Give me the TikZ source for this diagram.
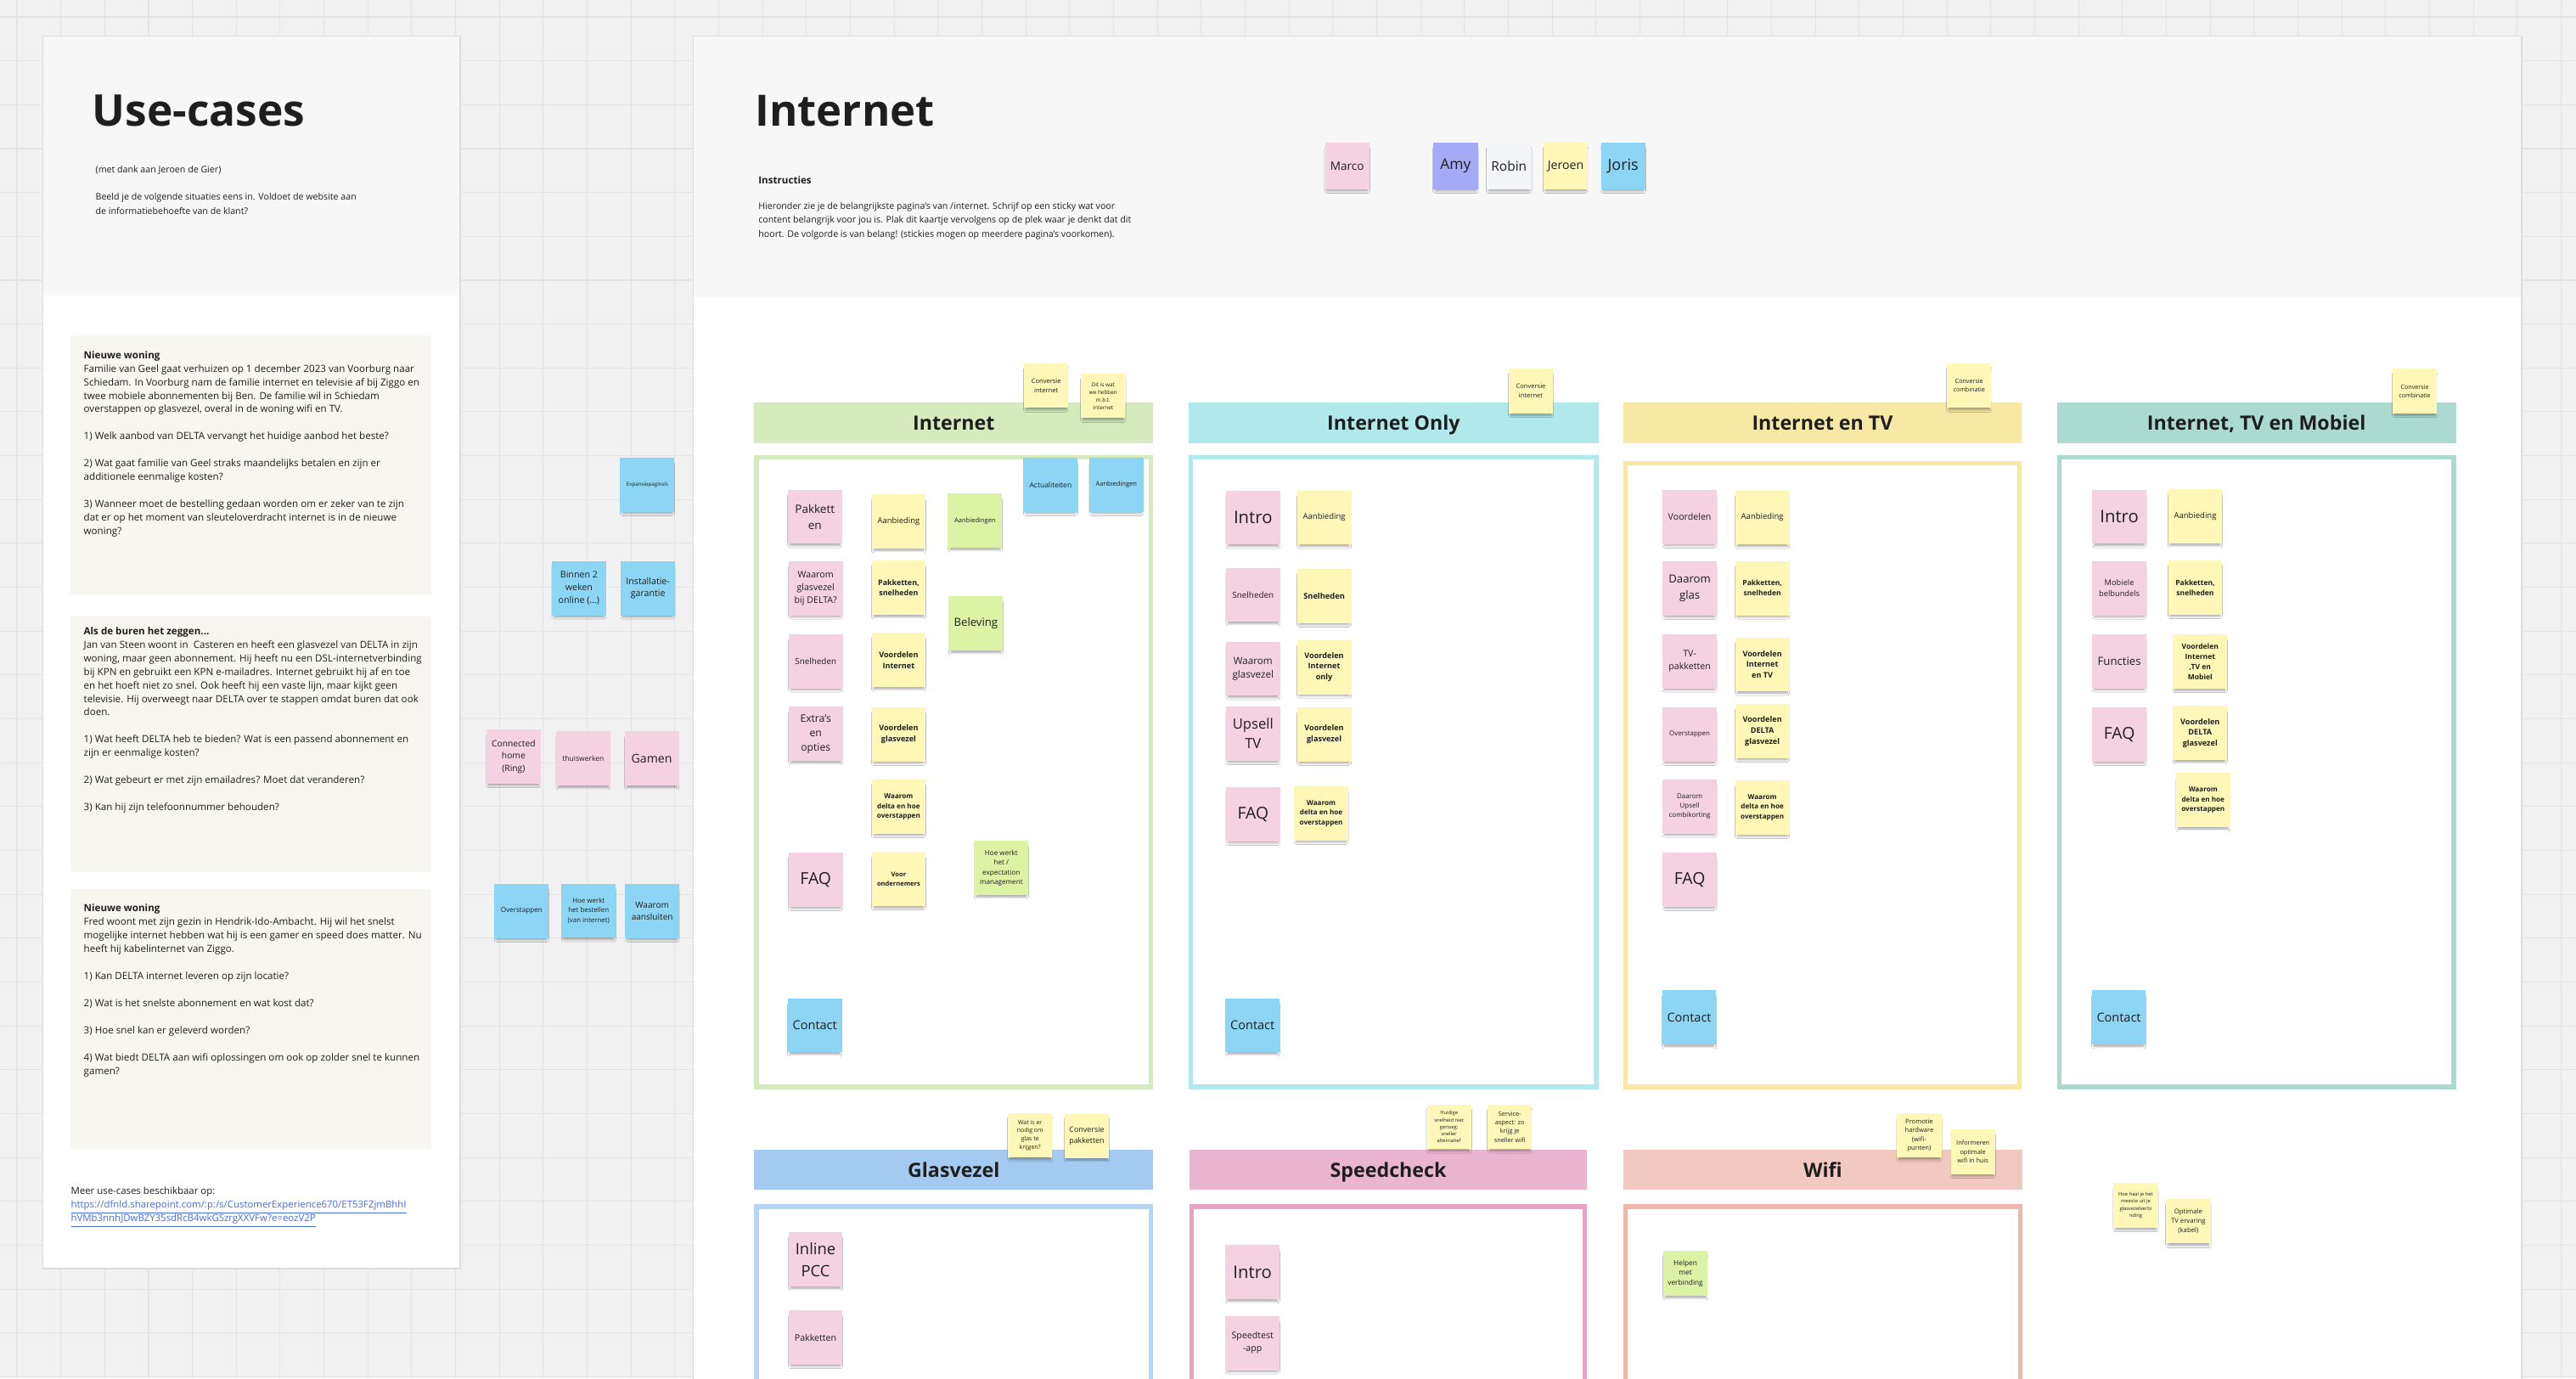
\documentclass[tikz,border=0pt]{standalone}
\usepackage{fontspec}
\setmainfont{Open Sans}
\usetikzlibrary{shadows.blur}
\definecolor{CanvasClr}{HTML}{F1F1F1}
\definecolor{GridClr}{HTML}{E3E3E3}
\definecolor{PanelTopClr}{HTML}{F7F7F7}
\definecolor{PanelLineClr}{HTML}{DDDDDD}
\definecolor{CaseClr}{HTML}{F8F6F0}
\definecolor{LinkClr}{HTML}{4A6CD9}
\definecolor{TextClr}{HTML}{1E1E1E}
\definecolor{PinkClr}{HTML}{F5D2E1}
\definecolor{YellowClr}{HTML}{FFF7B7}
\definecolor{BlueClr}{HTML}{8DD5F4}
\definecolor{GreenClr}{HTML}{DCF2A4}
\definecolor{PurpleClr}{HTML}{A6AAF5}
\definecolor{WhiteClr}{HTML}{F4F5F8}
\definecolor{InternetClr}{HTML}{D5EBBE}
\definecolor{OnlyClr}{HTML}{B1E8EC}
\definecolor{TvClr}{HTML}{F8E8A5}
\definecolor{MobielClr}{HTML}{ACDAD0}
\definecolor{GlasClr}{HTML}{A4CAF2}
\definecolor{GlasLineClr}{HTML}{B6D6F5}
\definecolor{SpeedClr}{HTML}{EAB6CF}
\definecolor{SpeedLineClr}{HTML}{E6A2C3}
\definecolor{WifiClr}{HTML}{F2C9C0}
\definecolor{WifiLineClr}{HTML}{EFB6AB}
\newcommand\notesize[1]{\fontsize{#1}{\dimexpr #1pt*14/10\relax}\selectfont}
\tikzset{
  gridline/.style={draw=GridClr, line width=.6pt},
  sticky/.style={minimum width=33pt, minimum height=33pt, inner sep=1pt, align=center, text=TextClr,
    blur shadow={shadow xshift=0pt, shadow yshift=-2.5pt, shadow scale=.92, shadow blur radius=1.5pt, shadow blur steps=6, shadow opacity=35}},
  pinksticky/.style={sticky, fill=PinkClr},
  yellowsticky/.style={sticky, fill=YellowClr},
  bluesticky/.style={sticky, fill=BlueClr},
  greensticky/.style={sticky, fill=GreenClr},
  smallsticky/.style={minimum width=27pt, minimum height=27pt},
  namesticky/.style={minimum width=27pt, minimum height=28pt},
  bandbox/.style={minimum height=25pt, inner sep=0, text height=8.6pt, text depth=0pt, font=\bfseries\fontsize{12}{14}\selectfont, text=TextClr},
  colbox/.style={line width=2.8pt},
  casetext/.style={anchor=north west, align=left, inner sep=0, text=TextClr, font=\fontsize{6}{8.25}\selectfont}
}
\begin{document}
\begin{tikzpicture}[x=1pt,y=-1pt]
\useasboundingbox (0,0) rectangle (1568,839);
\fill[CanvasClr] (0,0) rectangle (1568,839);
\foreach \g in {0,...,58} \draw[gridline] ({10.3+26.7*\g},0) -- ++(0,839);
\foreach \g in {0,...,31} \draw[gridline] (0,{10.3+26.7*\g}) -- ++(1568,0);

\fill[white] (26,22) rectangle (280,772);
\fill[PanelTopClr] (26,22) rectangle (280,180);
\draw[PanelLineClr, line width=.8pt] (26,22) rectangle (280,772);
\fill[white] (422,22) rectangle (1535,860);
\fill[PanelTopClr] (422,22) rectangle (1535,181);
\draw[PanelLineClr, line width=.8pt] (422,22) rectangle (1535,860);

\fill[CaseClr] (42.7,204) rectangle (262.6,362);
\fill[CaseClr] (42.7,375) rectangle (262.6,531);
\fill[CaseClr] (42.7,541) rectangle (262.6,699);

\node[anchor=west, inner sep=0, text=TextClr, font=\bfseries\fontsize{26.6}{30}\selectfont] (ucTitle) at (56,67.5) {Use-cases};
\node[anchor=west, inner sep=0, text=TextClr, font=\fontsize{5.5}{8.5}\selectfont] (ucThanks) at (58,103.6) {(met dank aan Jeroen de Gier)};
\node[casetext, font=\fontsize{5.5}{8.6}\selectfont] (ucIntro) at (58,117.3) {Beeld je de volgende situaties eens in. Voldoet de website aan\\de informatiebehoefte van de klant?};
\node[casetext] (caseOne) at (50.8,213.4) {\textbf{Nieuwe woning}\\Familie van Geel gaat verhuizen op 1 december 2023 van Voorburg naar\\Schiedam. In Voorburg nam de familie internet en televisie af bij Ziggo en\\twee mobiele abonnementen bij Ben. De familie wil in Schiedam\\overstappen op glasvezel, overal in de woning wifi en TV.\\[8.25pt]1) Welk aanbod van DELTA vervangt het huidige aanbod het beste?\\[8.25pt]2) Wat gaat familie van Geel straks maandelijks betalen en zijn er\\additionele eenmalige kosten?\\[8.25pt]3) Wanneer moet de bestelling gedaan worden om er zeker van te zijn\\dat er op het moment van sleuteloverdracht internet is in de nieuwe\\woning?};
\node[casetext] (caseTwo) at (50.8,381.4) {\textbf{Als de buren het zeggen...}\\Jan van Steen woont in\ \ Casteren en heeft een glasvezel van DELTA in zijn\\woning, maar geen abonnement. Hij heeft nu een DSL-internetverbinding\\bij KPN en gebruikt een KPN e-mailadres. Internet gebruikt hij af en toe\\en het hoeft niet zo snel. Ook heeft hij een vaste lijn, maar kijkt geen\\televisie. Hij overweegt naar DELTA over te stappen omdat buren dat ook\\doen.\\[8.25pt]1) Wat heeft DELTA heb te bieden? Wat is een passend abonnement en\\zijn er eenmalige kosten?\\[8.25pt]2) Wat gebeurt er met zijn emailadres? Moet dat veranderen?\\[8.25pt]3) Kan hij zijn telefoonnummer behouden?};
\node[casetext] (caseThree) at (50.8,550.2) {\textbf{Nieuwe woning}\\Fred woont met zijn gezin in Hendrik-Ido-Ambacht. Hij wil het snelst\\mogelijke internet hebben wat hij is een gamer en speed does matter. Nu\\heeft hij kabelinternet van Ziggo.\\[8.25pt]1) Kan DELTA internet leveren op zijn locatie?\\[8.25pt]2) Wat is het snelste abonnement en wat kost dat?\\[8.25pt]3) Hoe snel kan er geleverd worden?\\[8.25pt]4) Wat biedt DELTA aan wifi oplossingen om ook op zolder snel te kunnen\\gamen?};
\node[casetext, font=\fontsize{5.9}{8.4}\selectfont] (ucMore) at (43,722.1) {Meer use-cases beschikbaar op:\\\textcolor{LinkClr}{\underline{https://dfnld.sharepoint.com/:p:/s/CustomerExperience670/ET53FZjmBhhI}}\\\textcolor{LinkClr}{\underline{hVMb3nnhJDwBZY35sdRcB4wkGSzrgXXVFw?e=eozV2P}}};

\node[anchor=west, inner sep=0, text=TextClr, font=\bfseries\fontsize{26.3}{30}\selectfont] (inTitle) at (459.5,67.5) {Internet};
\node[anchor=west, inner sep=0, text=TextClr, font=\bfseries\fontsize{6}{8}\selectfont] (inHead) at (461.5,109.5) {Instructies};
\node[casetext, font=\fontsize{5.5}{8.5}\selectfont] (inText) at (461.5,123) {Hieronder zie je de belangrijkste pagina's van /internet. Schrijf op een sticky wat voor\\content belangrijk voor jou is. Plak dit kaartje vervolgens op de plek waar je denkt dat dit\\hoort. De volgorde is van belang! (stickies mogen op meerdere pagina's voorkomen).};

\node[bandbox, fill=InternetClr, minimum width=243pt] (bandInternet) at (580.5,257.3) {Internet};
\node[bandbox, fill=OnlyClr, minimum width=249.5pt] (bandOnly) at (848.3,257.3) {Internet Only};
\node[bandbox, fill=TvClr, minimum width=242.5pt] (bandTV) at (1109.3,257.3) {Internet en TV};
\node[bandbox, fill=MobielClr, minimum width=243pt] (bandMobiel) at (1373.5,257.3) {Internet, TV en Mobiel};
\node[bandbox, fill=GlasClr, minimum width=243pt, minimum height=24.5pt] (bandGlas) at (580.5,712) {Glasvezel};
\node[bandbox, fill=SpeedClr, minimum width=242pt, minimum height=24.5pt] (bandSpeed) at (845,712) {Speedcheck};
\node[bandbox, fill=WifiClr, minimum width=243pt, minimum height=24.5pt] (bandWifi) at (1109.5,712) {Wifi};

\draw[colbox, InternetClr] (460.4,278.4) rectangle (700.6,661.6);
\draw[colbox, OnlyClr] (724.9,278.4) rectangle (971.6,661.6);
\draw[colbox, TvClr] (989.4,281.9) rectangle (1229.1,661.6);
\draw[colbox, MobielClr] (1253.4,278.4) rectangle (1493.6,661.6);
\draw[colbox, GlasLineClr] (460.4,734.4) rectangle (700.6,870);
\draw[colbox, SpeedLineClr] (725.4,734.4) rectangle (964.6,870);
\draw[colbox, WifiLineClr] (989.4,734.4) rectangle (1229.6,870);

\node[bluesticky, font=\notesize{3.2}] (expansie) at (394,295) {Expansiepagina's};
\node[bluesticky, font=\notesize{5.5}] (binnen) at (352.4,358) {Binnen 2\\weken\\online (...)};
\node[bluesticky, font=\notesize{5.5}] (garantie) at (394.4,358) {Installatie-\\garantie};
\node[pinksticky, font=\notesize{5.3}] (connected) at (312.6,460.5) {Connected\\home\\(Ring)};
\node[pinksticky, font=\notesize{4.4}] (thuiswerken) at (355,461.7) {thuiswerken};
\node[pinksticky, font=\notesize{7.3}] (gamen) at (396.7,461.7) {Gamen};
\node[bluesticky, font=\notesize{4.2}] (overstappen) at (317.5,554.5) {Overstappen};
\node[bluesticky, font=\notesize{4.1}] (bestellen) at (358.3,554.3) {Hoe werkt\\het bestellen\\(van internet)};
\node[bluesticky, font=\notesize{5.2}] (aansluiten) at (397,554.5) {Waarom\\aansluiten};

\node[pinksticky, namesticky, font=\notesize{7}] (marco) at (820,101) {Marco};
\node[sticky, namesticky, fill=PurpleClr, font=\notesize{9}] (amy) at (886,101) {Amy};
\node[sticky, namesticky, fill=WhiteClr, font=\notesize{8}] (robin) at (918.5,101) {Robin};
\node[yellowsticky, namesticky, font=\notesize{7.3}] (jeroen) at (953,101) {Jeroen};
\node[bluesticky, namesticky, font=\notesize{9.3}] (joris) at (988,101) {Joris};

\node[yellowsticky, smallsticky, font=\notesize{3.9}] (iConversie) at (636.8,234.7) {Conversie\\internet};
\node[yellowsticky, smallsticky, font=\notesize{3.3}] (iDitIs) at (671.5,241) {Dit is wat\\we hebben\\m.b.t.\\internet};
\node[bluesticky, font=\notesize{4.4}] (iActualiteiten) at (639.5,295) {Actualiteiten};
\node[bluesticky, font=\notesize{3.9}] (iAanbiedingenB) at (679.5,295) {Aanbiedingen};
\node[pinksticky, font=\notesize{7}] (iPakketten) at (496,314.5) {Pakkett\\en};
\node[yellowsticky, font=\notesize{4.9}] (iAanbieding) at (547,317.5) {Aanbieding};
\node[greensticky, font=\notesize{3.9}] (iAanbiedingenG) at (593.5,317) {Aanbiedingen};
\node[pinksticky, font=\notesize{5.5}] (iWaaromGlas) at (496.5,358) {Waarom\\glasvezel\\bij DELTA?};
\node[yellowsticky, font=\notesize{4.6}\bfseries] (iPakSnel) at (547,357.8) {Pakketten,\\snelheden};
\node[greensticky, font=\notesize{6.8}] (iBeleving) at (594,379.5) {Beleving};
\node[pinksticky, font=\notesize{5.1}] (iSnelheden) at (496.5,402.4) {Snelheden};
\node[yellowsticky, font=\notesize{4.7}\bfseries] (iVoordInternet) at (547,401.7) {Voordelen\\Internet};
\node[pinksticky, font=\notesize{6.3}] (iExtras) at (496.5,446.7) {Extra's\\en\\opties};
\node[yellowsticky, font=\notesize{4.7}\bfseries] (iVoordGlas) at (547,447) {Voordelen\\glasvezel};
\node[yellowsticky, font=\notesize{4.2}\bfseries] (iWaaromDelta) at (547,491) {Waarom\\delta en hoe\\overstappen};
\node[pinksticky, font=\notesize{10}] (iFAQ) at (496.5,535.3) {FAQ};
\node[yellowsticky, font=\notesize{3.9}\bfseries] (iOndernemers) at (547,535) {Voor\\ondernemers};
\node[greensticky, font=\notesize{4.2}] (iHoeWerkt) at (609.5,528.3) {Hoe werkt\\het /\\expectation\\management};
\node[bluesticky, font=\notesize{7.5}] (iContact) at (496,624) {Contact};

\node[yellowsticky, smallsticky, font=\notesize{3.9}] (oConversie) at (931.8,238) {Conversie\\internet};
\node[pinksticky, font=\notesize{10.5}] (oIntro) at (762.7,315) {Intro};
\node[yellowsticky, font=\notesize{4.9}] (oAanbieding) at (806,315) {Aanbieding};
\node[pinksticky, font=\notesize{5.1}] (oSnelheden) at (762.7,362) {Snelheden};
\node[yellowsticky, font=\notesize{4.8}\bfseries] (oSnelhedenB) at (806,362.7) {Snelheden};
\node[pinksticky, font=\notesize{6}] (oWaaromGlas) at (762.7,407) {Waarom\\glasvezel};
\node[yellowsticky, font=\notesize{4.7}\bfseries] (oVoordOnly) at (806,406) {Voordelen\\Internet\\only};
\node[pinksticky, font=\notesize{8.6}] (oUpsell) at (762.7,446.5) {Upsell\\TV};
\node[yellowsticky, font=\notesize{4.7}\bfseries] (oVoordGlas) at (806,447) {Voordelen\\glasvezel};
\node[pinksticky, font=\notesize{10}] (oFAQ) at (762.7,495.5) {FAQ};
\node[yellowsticky, font=\notesize{4.2}\bfseries] (oWaaromDelta) at (804.2,495) {Waarom\\delta en hoe\\overstappen};
\node[bluesticky, font=\notesize{7.5}] (oContact) at (762.4,624) {Contact};

\node[yellowsticky, smallsticky, font=\notesize{3.7}] (tConversie) at (1198.6,234.7) {Conversie\\combinatie};
\node[pinksticky, font=\notesize{5.5}] (tVoordelen) at (1028.5,314.6) {Voordelen};
\node[yellowsticky, font=\notesize{4.9}] (tAanbieding) at (1072.7,315) {Aanbieding};
\node[pinksticky, font=\notesize{6.8}] (tDaarom) at (1028.5,358.1) {Daarom\\glas};
\node[yellowsticky, font=\notesize{4.4}\bfseries] (tPakSnel) at (1072.7,358) {Pakketten,\\snelheden};
\node[pinksticky, font=\notesize{5.5}] (tPakketten) at (1028.5,402.4) {TV-\\pakketten};
\node[yellowsticky, font=\notesize{4.7}\bfseries] (tVoordTV) at (1072.7,404.4) {Voordelen\\Internet\\en TV};
\node[pinksticky, font=\notesize{4.1}] (tOverstappen) at (1028.5,447) {Overstappen};
\node[yellowsticky, font=\notesize{4.7}\bfseries] (tVoordDelta) at (1072.7,445) {Voordelen\\DELTA\\glasvezel};
\node[pinksticky, font=\notesize{4.1}] (tUpsell) at (1028.5,490.8) {Daarom\\Upsell\\combikorting};
\node[yellowsticky, font=\notesize{4.2}\bfseries] (tWaaromDelta) at (1072.7,491.5) {Waarom\\delta en hoe\\overstappen};
\node[pinksticky, font=\notesize{10}] (tFAQ) at (1028.5,535.3) {FAQ};
\node[bluesticky, font=\notesize{7.5}] (tContact) at (1028.2,619.3) {Contact};

\node[yellowsticky, smallsticky, font=\notesize{3.7}] (mConversie) at (1469.8,238) {Conversie\\combinatie};
\node[pinksticky, font=\notesize{10.5}] (mIntro) at (1290,314.5) {Intro};
\node[yellowsticky, font=\notesize{4.9}] (mAanbieding) at (1336.2,314.4) {Aanbieding};
\node[pinksticky, font=\notesize{4.8}] (mBelbundels) at (1290,358) {Mobiele\\belbundels};
\node[yellowsticky, font=\notesize{4.4}\bfseries] (mPakSnel) at (1336.2,357.6) {Pakketten,\\snelheden};
\node[pinksticky, font=\notesize{6.8}] (mFuncties) at (1290,402.4) {Functies};
\node[yellowsticky, font=\notesize{4.4}\bfseries] (mVoordMobiel) at (1339.2,402.7) {Voordelen\\Internet\\,TV en\\Mobiel};
\node[pinksticky, font=\notesize{10}] (mFAQ) at (1290,447) {FAQ};
\node[yellowsticky, font=\notesize{4.7}\bfseries] (mVoordDelta) at (1339.2,446.2) {Voordelen\\DELTA\\glasvezel};
\node[yellowsticky, font=\notesize{4.2}\bfseries] (mWaaromDelta) at (1341,487) {Waarom\\delta en hoe\\overstappen};
\node[bluesticky, font=\notesize{7.5}] (mContact) at (1289.7,619.3) {Contact};

\node[yellowsticky, smallsticky, font=\notesize{3.6}] (gKrijgen) at (627,691) {Wat is er\\nodig om\\glas te\\krijgen?};
\node[yellowsticky, smallsticky, font=\notesize{4.6}] (gConversie) at (661.5,691.3) {Conversie\\pakketten};
\node[pinksticky, font=\notesize{9.5}] (gInline) at (496.4,766.6) {Inline\\PCC};
\node[pinksticky, font=\notesize{5.5}] (gPakketten) at (496.4,814) {Pakketten};
\node[yellowsticky, smallsticky, font=\notesize{3}] (sHuidig) at (882,685.8) {Huidige\\snelheid niet\\genoeg:\\sneller\\alternatief};
\node[yellowsticky, smallsticky, font=\notesize{3.8}] (sService) at (919,685.8) {Service-\\aspect: zo\\krijg je\\sneller wifi};
\node[pinksticky, font=\notesize{10.5}] (sIntro) at (762.4,774.3) {Intro};
\node[pinksticky, font=\notesize{5.5}] (sSpeedtest) at (762.4,817.4) {Speedtest\\-app};
\node[yellowsticky, smallsticky, font=\notesize{3.9}] (wPromotie) at (1168.2,691) {Promotie\\hardware\\(wifi-\\punten)};
\node[yellowsticky, smallsticky, font=\notesize{3.8}] (wInformeren) at (1200.9,701) {Informeren\\optimale\\wifi in huis};
\node[greensticky, smallsticky, font=\notesize{4.3}] (wHelpen) at (1025.9,775) {Helpen\\met\\verbinding};
\node[yellowsticky, smallsticky, font=\notesize{3}] (xGlasvezel) at (1300,733.6) {Hoe haal je het\\meeste uit je\\glasvezelverbi\\nding};
\node[yellowsticky, smallsticky, font=\notesize{4}] (xKabel) at (1332,743.3) {Optimale\\TV ervaring\\(kabel)};
\end{tikzpicture}
\end{document}
